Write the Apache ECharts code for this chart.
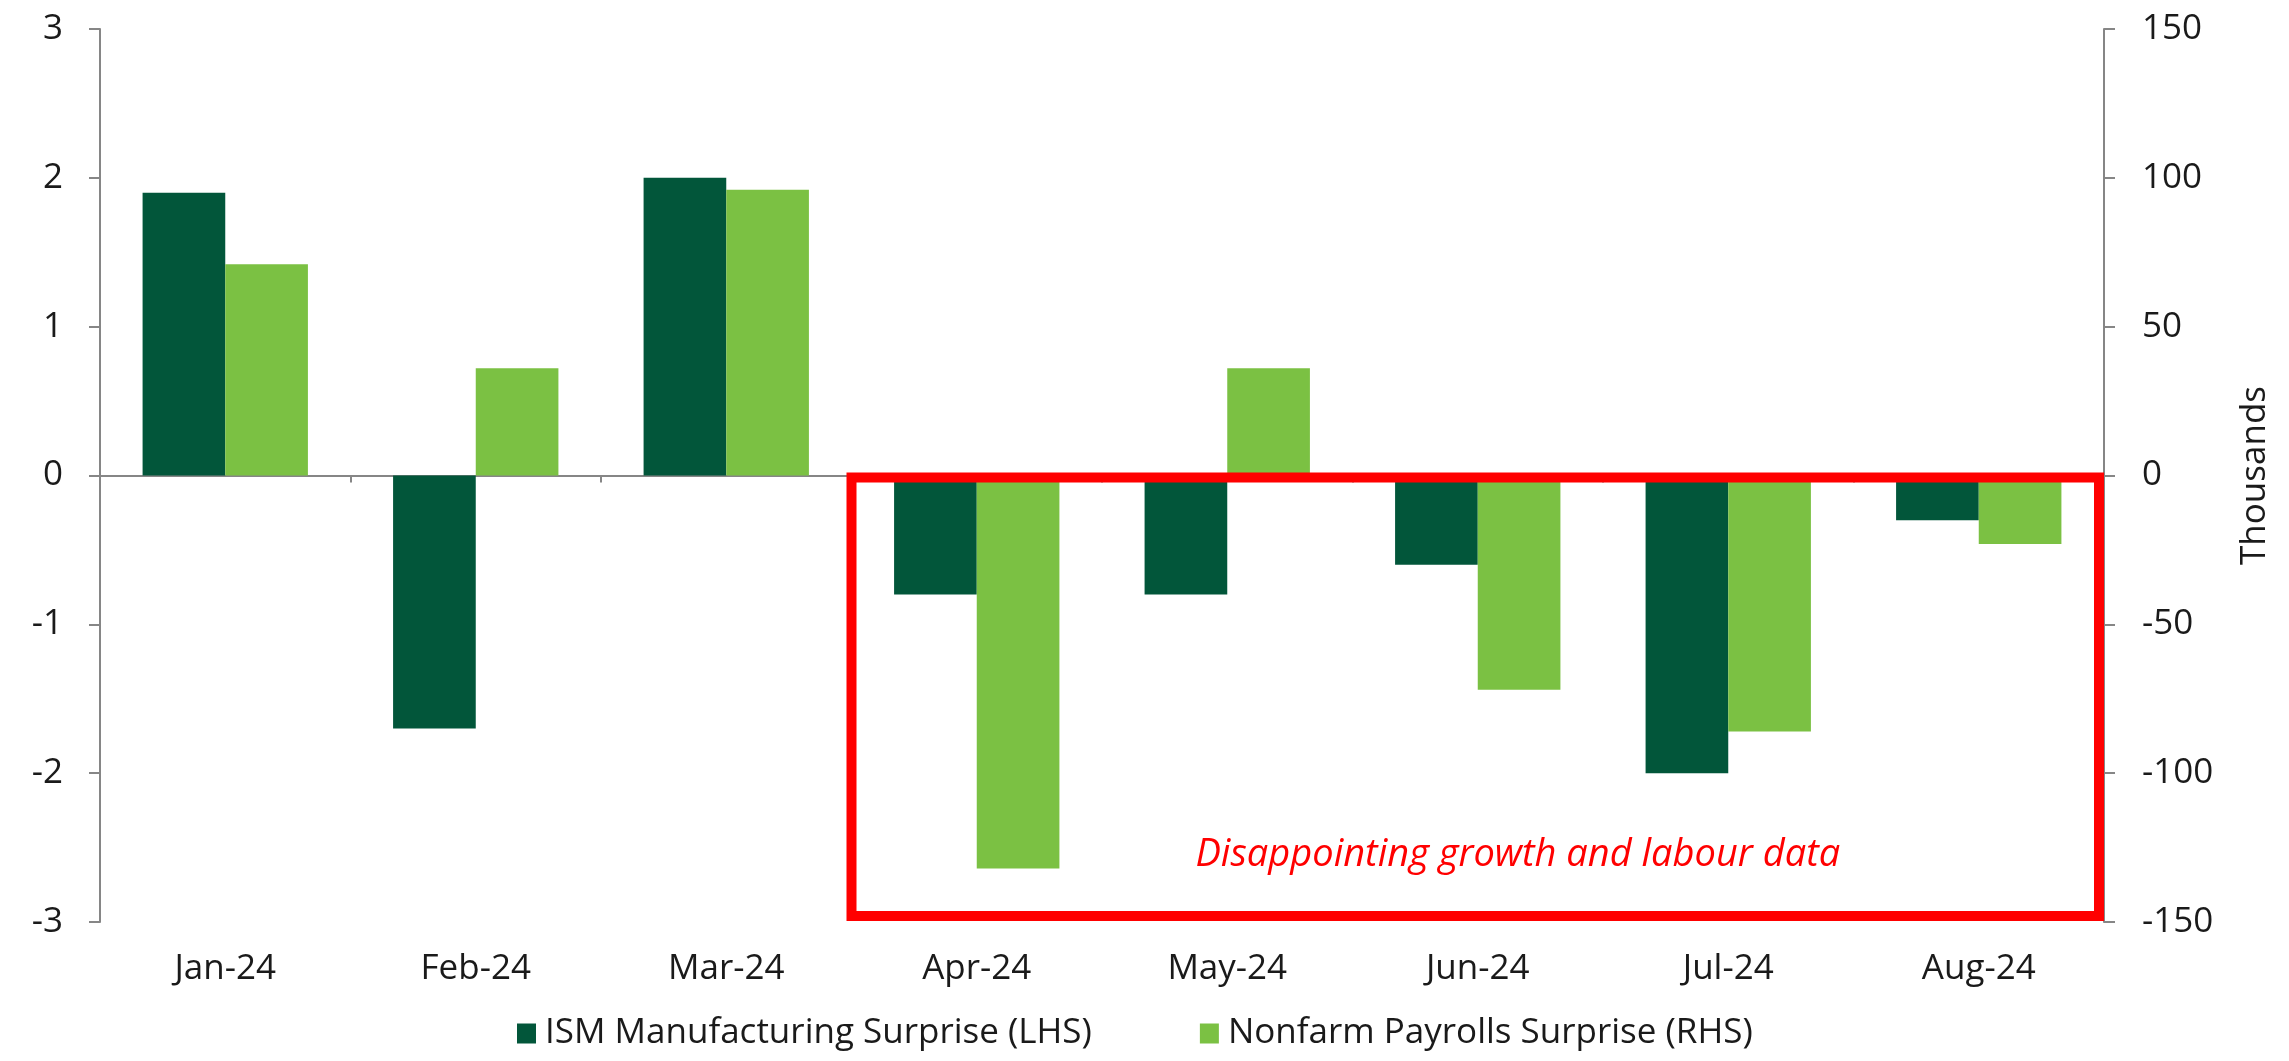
<!DOCTYPE html>
<html>
<head>
<meta charset="utf-8">
<script src="https://cdn.jsdelivr.net/npm/echarts@6/dist/echarts.min.js"></script>
<style>
html,body{margin:0;padding:0;background:#fff;}
#main{width:2289px;height:1061px;}
</style>
</head>
<body>
<div id="main"></div>
<script>
const categories = ['Jan-24','Feb-24','Mar-24','Apr-24','May-24','Jun-24','Jul-24','Aug-24'];
const ismSurprise = [1.9, -1.7, 2.0, -0.8, -0.8, -0.6, -2.0, -0.3];
const nfpSurprise = [71, 36, 96, -132, 36, -72, -86, -23];
const leftTicks = [-3, 3, 1];
const rightTicks = [-150, 150, 50];
const seriesNames = ['ISM Manufacturing Surprise (LHS)', 'Nonfarm Payrolls Surprise (RHS)'];
const annotationText = 'Disappointing growth and labour data';
const rightAxisName = 'Thousands';

const FONT = '"Open Sans", "Noto Sans", sans-serif';
const AXIS_COLOR = '#868686';
const TEXT_COLOR = '#1a1a1a';
const FS = 35;

const chart = echarts.init(document.getElementById('main'));
const option = {
  animation: false,
  backgroundColor: '#ffffff',
  textStyle: {fontFamily: FONT},
  grid: {left: 100, right: 185, top: 29, bottom: 139, containLabel: false},
  legend: {
    data: seriesNames,
    left: 512,
    top: 1011,
    icon: 'rect',
    itemWidth: 19,
    itemHeight: 20,
    itemGap: 108,
    textStyle: {fontSize: FS, color: TEXT_COLOR, fontFamily: FONT, padding: [0,0,0,4]}
  },
  xAxis: [
    {
      type: 'category',
      data: categories,
      position: 'bottom',
      axisLine: {show: false, onZero: false},
      axisTick: {show: false},
      axisLabel: {fontSize: FS, color: TEXT_COLOR, margin: 30, fontFamily: FONT},
      splitLine: {show: false}
    },
    {
      type: 'category',
      data: categories,
      position: 'bottom',
      axisLine: {show: true, onZero: true, onZeroAxisIndex: 0, lineStyle: {color: AXIS_COLOR, width: 2}},
      axisTick: {show: true, length: 7, lineStyle: {color: AXIS_COLOR, width: 2}},
      axisLabel: {show: false},
      splitLine: {show: false}
    }
  ],
  yAxis: [
    {
      type: 'value',
      min: leftTicks[0], max: leftTicks[1], interval: leftTicks[2],
      position: 'left',
      axisLine: {show: true, onZero: false, lineStyle: {color: AXIS_COLOR, width: 2}},
      axisTick: {show: true, length: 11, lineStyle: {color: AXIS_COLOR, width: 2}},
      axisLabel: {fontSize: FS, color: TEXT_COLOR, margin: 37, fontFamily: FONT},
      splitLine: {show: false}
    },
    {
      type: 'value',
      min: rightTicks[0], max: rightTicks[1], interval: rightTicks[2],
      position: 'right',
      name: rightAxisName,
      nameLocation: 'middle',
      nameRotate: 90,
      nameGap: 134,
      nameTextStyle: {fontSize: FS, color: TEXT_COLOR, fontFamily: FONT},
      axisLine: {show: true, onZero: false, lineStyle: {color: AXIS_COLOR, width: 2}},
      axisTick: {show: true, length: 11, lineStyle: {color: AXIS_COLOR, width: 2}},
      axisLabel: {fontSize: FS, color: TEXT_COLOR, margin: 38, fontFamily: FONT},
      splitLine: {show: false}
    }
  ],
  series: [
    {
      name: seriesNames[0],
      type: 'bar',
      xAxisIndex: 0,
      yAxisIndex: 0,
      data: ismSurprise,
      barWidth: '33%',
      barGap: '0%',
      itemStyle: {color: '#02563a'}
    },
    {
      name: seriesNames[1],
      type: 'bar',
      xAxisIndex: 0,
      yAxisIndex: 1,
      data: nfpSurprise,
      barWidth: '33%',
      barGap: '0%',
      itemStyle: {color: '#7bc143'}
    }
  ]
};
chart.setOption(option);

// Annotation box: from the Mar/Apr boundary to the right end of the plot, from 0 to -3 on the left axis
const xJan = chart.convertToPixel({xAxisIndex: 0}, categories[0]);
const xAug = chart.convertToPixel({xAxisIndex: 0}, categories[categories.length - 1]);
const band = (xAug - xJan) / (categories.length - 1);
const xApr = chart.convertToPixel({xAxisIndex: 0}, categories[3]);
const boxLeft = xApr - band / 2;
const boxRight = xAug + band / 2;
const yZero = chart.convertToPixel({yAxisIndex: 0}, 0);
const yBottom = chart.convertToPixel({yAxisIndex: 0}, leftTicks[0]);
const yText = chart.convertToPixel({yAxisIndex: 0}, -2.55);
const stroke = 10;

chart.setOption({
  graphic: [
    {
      type: 'rect',
      z: 100,
      shape: {x: boxLeft, y: yZero + 2, width: (boxRight - 5) - boxLeft, height: (yBottom - 6) - (yZero + 2)},
      style: {fill: 'none', stroke: '#ff0000', lineWidth: stroke}
    },
    {
      type: 'text',
      z: 101,
      x: boxLeft + (boxRight - boxLeft) * 0.532,
      y: yText,
      style: {
        text: annotationText,
        fill: '#ff0000',
        font: 'italic 38px ' + FONT,
        textAlign: 'center',
        textVerticalAlign: 'middle'
      }
    }
  ]
});
</script>
</body>
</html>
